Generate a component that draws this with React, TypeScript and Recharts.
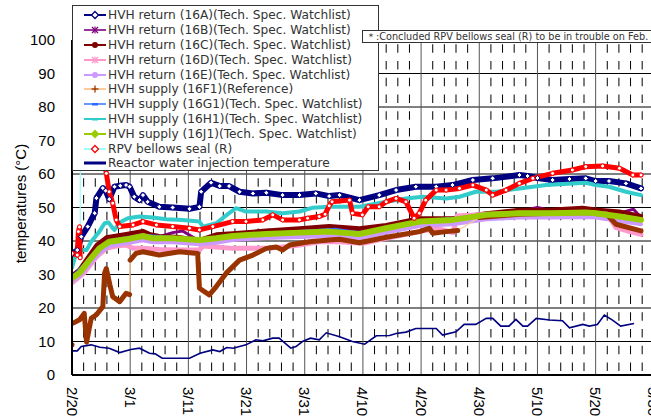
import React from "react";
import { LineChart, Line, XAxis, YAxis, CartesianGrid, Legend, ReferenceLine } from "recharts";

// x = days since 2/20 (2012 is a leap year, so 3/1 is day 10)
const DAY_TICKS = [0, 10, 20, 30, 40, 50, 60, 70, 80, 90, 100, 110];
const DATE_LABELS = ["2/20", "3/1", "3/11", "3/21", "3/31", "4/10", "4/20", "4/30", "5/10", "5/20", "5/30", "6/9"];
const TEMP_TICKS = [0, 10, 20, 30, 40, 50, 60, 70, 80, 90, 100];
const MAJOR_DAYS = DAY_TICKS.filter((d) => d > 0 && d < 110);
const MINOR_DAYS: number[] = [];
for (let d = 2; d < 110; d += 2) if (d % 10 !== 0) MINOR_DAYS.push(d);

const NOTE = "＊:Concluded RPV bellows seal (R) to be in trouble on Feb.";

// HVH return (16A)
const days16A = [0, 0.9, 1.6, 2.7, 3.9, 4.2, 5.3, 5.8, 6.4, 7.3, 8.3, 9.3, 9.9, 10.7, 11.6, 12.2, 13, 15, 17.3, 20.2, 21.9, 22.2, 23.9, 25.4, 27, 28.8, 31.1, 33.4, 36.2, 39.1, 41.9, 44.2, 46, 49.4, 52.8, 55.7, 59.1, 62.6, 65.4, 68.9, 72.3, 76.9, 78.3, 80, 82.6, 85.5, 88.3, 90, 92.3, 95.2, 97.8];
const temps16A = [36, 37.3, 41.3, 44.3, 48.3, 52.8, 55.8, 55, 52.5, 56.2, 56.5, 56.7, 56.2, 53.2, 52.2, 53.7, 51.7, 50.2, 50, 49.6, 50.2, 54.7, 57.4, 56.4, 56.4, 54.7, 54.2, 54.4, 53.7, 53.7, 54.2, 53.4, 53.7, 52.2, 53.7, 55.2, 56.2, 56.2, 56.7, 58.2, 58.7, 59.7, 59.4, 58.8, 58.2, 58.5, 58.7, 57.9, 57.9, 57.2, 55.7];

// HVH return (16B)
const days16B = [0, 1.3, 3, 4.7, 6.4, 9.3, 12.2, 15, 17.3, 19, 21.9, 24.8, 27.6, 33.4, 39.1, 44.2, 49.4, 54, 59.7, 65.4, 71.2, 76.9, 80, 82.6, 88.3, 90, 94.1, 96.5, 97.8];
const temps16B = [30, 31.5, 35, 38.3, 40.5, 41.5, 42.3, 41.3, 42.5, 43, 40, 41.8, 41.8, 42.6, 43.3, 44.2, 43.3, 44.3, 46.3, 46.3, 47.8, 48.8, 50, 49, 49.4, 49, 48.3, 49.5, 47];

// HVH return (16C)
const days16C = [0, 1.3, 2.4, 4.2, 5.9, 9.3, 12.2, 13.5, 15, 18, 21.9, 24.8, 27.6, 33.4, 39.1, 44.2, 49.4, 54, 59.7, 65.4, 71.2, 76.9, 82.6, 87.8, 90, 94.1, 97.8];
const temps16C = [29.5, 31.5, 34.3, 38.8, 41.1, 42.1, 43, 42, 41.5, 41.3, 40.3, 42, 42.3, 43.1, 43.8, 44.5, 43.8, 44.8, 46.8, 46.8, 48.3, 49.3, 49.4, 49.9, 49.4, 48.8, 47.5];

// HVH return (16D)
const days16D = [0, 2.1, 4.2, 5.9, 7.5, 9.3, 10.5, 12.2, 15, 18.5, 21.9, 22.5, 24.2, 27.6, 33.4, 36.2, 39.1, 42.5, 46, 50, 54, 59.7, 62.6, 65.5, 66.2, 70, 76.9, 82.6, 88.3, 92, 93.5, 95.5, 97.8];
const temps16D = [27.5, 30.5, 35.3, 37.8, 38.5, 38.8, 37.8, 37.8, 37.5, 37.3, 37.3, 38.5, 38.3, 37.8, 37.8, 38.2, 38.8, 39.8, 39.8, 39.3, 40.8, 42.8, 43.8, 42.5, 47.5, 47.8, 48.3, 48.3, 48.5, 48, 44, 43, 42];

// HVH return (16E)
const days16E = [0, 1.3, 3, 4.7, 6.4, 9.3, 12.2, 13.9, 17.3, 21.9, 24.8, 27.6, 33.4, 39.1, 44.2, 49.4, 54, 59.7, 65.4, 71.2, 76.9, 82.6, 88.3, 90, 94.1, 97.8];
const temps16E = [28, 29.5, 33, 36.5, 38.5, 39.3, 40.2, 39.6, 39.6, 39, 39.5, 40.3, 40.9, 41.2, 41.5, 40.8, 42.5, 44.5, 45, 46.5, 47, 47, 47.2, 47, 46, 45];

// HVH supply (16F1)
const days16F1 = [0, 0.1, 1.3, 2.1, 2.5, 2.8, 3.3, 4.2, 5.3, 5.6, 5.9, 6.5, 7, 8.2, 9.3, 9.9, 10, 11, 12.2, 15, 18.5, 21.6, 21.9, 23.6, 24.8, 26.5, 28.8, 31.1, 33.4, 35.1, 36.2, 37.4, 40.8, 44.2, 46, 49.4, 54, 59.7, 61.4, 62, 64.3, 66.3, 70, 76.9, 82.6, 88.3, 92, 93.5, 97.8];
const temps16F1 = [9, 15.4, 16.5, 18.4, 9.8, 12.4, 16.9, 18, 20.4, 30.4, 31.8, 27, 23.4, 21.9, 24.4, 24, 34.3, 36.3, 36.8, 35.8, 36.8, 36.3, 25.9, 23.9, 26.4, 30.4, 34.3, 35.8, 37.8, 38.2, 37.3, 38.8, 39.8, 40.3, 40.5, 39.5, 41.1, 42.8, 43.8, 42.3, 42.8, 43.1, 47, 48, 48.3, 48.5, 47.8, 45, 43];
const gaps16F1 = [0.05, 9.95, 66.5];

// HVH supply (16G1)
const days16G1 = [0, 3, 6.4, 12.2, 21.9, 27.6, 39.1, 45.2, 49.4, 54, 59.7, 66, 71.2, 76.9, 82.6, 90, 97.8];
const temps16G1 = [29.2, 34.5, 40, 41.7, 40.5, 41.7, 42.8, 43.5, 42.4, 44, 46, 46.8, 48, 48.5, 48.5, 48.5, 46.5];

// HVH supply (16H1)
const days16H1 = [0, 0.5, 1.3, 2.5, 3.3, 4.7, 5.6, 6.3, 6.8, 7.3, 8.2, 9.6, 11.6, 13.9, 16.2, 19, 21.9, 22.5, 24.8, 27, 28.2, 29.9, 33.4, 36.2, 39.1, 41.3, 44.2, 46, 49.4, 54, 57.4, 60.3, 64.3, 66.6, 69.4, 72.9, 76.9, 81.5, 86, 88.3, 90, 92.3, 95.2, 97.8];
const temps16H1 = [32, 35, 37.3, 37.3, 39.8, 42.8, 45.3, 45.5, 44.3, 43.3, 45.5, 46.8, 47.3, 47, 46.5, 46.3, 45.8, 44.3, 45.3, 48.3, 49.8, 48.8, 48.8, 48.3, 48.8, 49.9, 50.2, 50.2, 50.2, 51.7, 52.7, 53.2, 52.7, 53.2, 54.7, 54.7, 55.7, 56.7, 57.2, 57.4, 56.7, 56.2, 54.7, 53.7];

// HVH supply (16J1)
const days16J1 = [0, 1.3, 3, 4.7, 6.4, 9.3, 12.2, 13.9, 17.3, 21.9, 24.8, 27.6, 33.4, 39.1, 44.2, 49.4, 54, 59.7, 65.4, 71.2, 76.9, 82.6, 88.3, 90, 94.1, 97.8];
const temps16J1 = [28.9, 30.5, 34.3, 37.8, 39.8, 40.5, 41.5, 40.8, 40.8, 40.3, 40.8, 41.5, 42.1, 42.5, 42.8, 42.1, 43.8, 45.8, 46.3, 47.8, 48.3, 48.3, 48.5, 48.3, 47.3, 46.3];

// RPV bellows seal (R)
const daysRPV = [0, 0.9, 1.1, 1.3, 1.4, 1.45, 3, 5.6, 5.9, 6.4, 7, 7.6, 8.2, 10.5, 12.2, 14.5, 17.3, 20.2, 21.9, 24.2, 27.6, 29.9, 32.8, 34.5, 36.2, 39.1, 40.5, 42.5, 43.5, 44.2, 44.7, 47.7, 48.2, 49.9, 50.9, 52.8, 54, 55.7, 57.4, 58.8, 59.7, 60.8, 62.6, 64.3, 66.6, 68.9, 71.2, 72.3, 74.6, 76.9, 79.2, 82.6, 86, 88.3, 91.2, 94.1, 96.4, 97.8];
const tempsRPV = [36.3, 35.8, 42.8, 44.2, 35, 80, 75, 63, 60.2, 54.7, 51.3, 46.3, 44.3, 44.8, 45.8, 44.8, 44.3, 43.8, 43.3, 44.3, 45.8, 45.8, 46.3, 47.8, 46.3, 46.3, 46.8, 47.3, 48, 50.5, 51.7, 52.2, 48.3, 47.8, 50.2, 50.2, 51.7, 52.7, 51.7, 46.8, 48.3, 52.2, 55.2, 55.2, 55.7, 56.7, 55.2, 53.7, 55.2, 57.2, 58.7, 60.2, 61.2, 62.2, 62.4, 61.7, 59.7, 59.7];
const gapsRPV = [1.42];

// Reactor water injection temperature
const daysInj = [0, 0.9, 1.6, 3.3, 4.8, 6.4, 8.2, 10.1, 11.6, 13.3, 14.3, 15.5, 20.2, 22, 24.2, 25.4, 26.6, 27.7, 29.9, 31.6, 32.8, 34.5, 35.6, 37.6, 38.5, 39.6, 41, 42.5, 43.7, 46, 48.2, 50.3, 52.3, 54.6, 55.7, 57.4, 59.1, 62.6, 63.7, 66, 67.4, 69.4, 71.2, 72.3, 73.7, 75.1, 76.3, 77.5, 78.3, 79.8, 82.1, 84.3, 85.5, 87.8, 88.9, 90.3, 91.5, 92.9, 94.3, 96.6];
const tempsInj = [7.2, 7.2, 8.5, 9, 8.3, 8, 6.7, 7.6, 8, 6.5, 6.3, 5, 5, 6.5, 7.5, 7, 8.2, 8, 9, 10.5, 10.2, 11, 11, 8, 8.5, 10, 11, 10.5, 12.6, 11.4, 10, 9.2, 11.7, 11.8, 12.4, 12.8, 13.9, 13.9, 11.9, 12.9, 15.1, 15.1, 16.9, 16.9, 14.6, 14.6, 16.6, 14.6, 14.6, 16.9, 16.4, 16.2, 14.1, 15.1, 14.6, 15.1, 17.9, 16.4, 14.6, 15.4];

type Mark = "diamond" | "star" | "circle" | "plus" | "dash" | "none";

interface Series {
  name: string;
  days: number[];
  temps: number[];
  line: string; // series line colour
  mark: string; // marker colour (dense markers read as a thick band)
  band: number;
  legendMark: Mark;
  gaps?: number[];
  dot?: "diamond" | "circle";
}

const SERIES: Series[] = [
  { name: "HVH return (16A)(Tech. Spec. Watchlist)", days: days16A, temps: temps16A, line: "#000080", mark: "#000080", band: 6, legendMark: "diamond", dot: "diamond" },
  { name: "HVH return (16B)(Tech. Spec. Watchlist)", days: days16B, temps: temps16B, line: "#993399", mark: "#800080", band: 3, legendMark: "star" },
  { name: "HVH return (16C)(Tech. Spec. Watchlist)", days: days16C, temps: temps16C, line: "#800000", mark: "#800000", band: 4, legendMark: "circle" },
  { name: "HVH return (16D)(Tech. Spec. Watchlist)", days: days16D, temps: temps16D, line: "#FF99CC", mark: "#FF99CC", band: 5, legendMark: "star" },
  { name: "HVH return (16E)(Tech. Spec. Watchlist)", days: days16E, temps: temps16E, line: "#CC99FF", mark: "#CC99FF", band: 4, legendMark: "circle" },
  { name: "HVH supply (16F1)(Reference)", days: days16F1, temps: temps16F1, line: "#FFCC99", mark: "#993300", band: 5, legendMark: "plus", gaps: gaps16F1 },
  { name: "HVH supply (16G1)(Tech. Spec. Watchlist)", days: days16G1, temps: temps16G1, line: "#6699FF", mark: "#3366FF", band: 3, legendMark: "dash" },
  { name: "HVH supply (16H1)(Tech. Spec. Watchlist)", days: days16H1, temps: temps16H1, line: "#33CCCC", mark: "#33CCCC", band: 4, legendMark: "dash" },
  { name: "HVH supply (16J1)(Tech. Spec. Watchlist)", days: days16J1, temps: temps16J1, line: "#99CC00", mark: "#99CC00", band: 6, legendMark: "diamond" },
  { name: "RPV bellows seal (R)", days: daysRPV, temps: tempsRPV, line: "#99FFFF", mark: "#FF0000", band: 5, legendMark: "diamond", gaps: gapsRPV, dot: "circle" },
];

const INJ_NAME = "Reactor water injection temperature";

const toPoints = (days: number[], temps: number[], gaps: number[] = []) => {
  const pts: { d: number; v: number | null }[] = days.map((d, i) => ({ d, v: temps[i] }));
  gaps.forEach((g) => pts.push({ d: g, v: null }));
  return pts.sort((a, b) => a.d - b.d);
};

const FONT = "'Liberation Sans', Arial, sans-serif";
const LEGEND_FONT = "'DejaVu Sans', Verdana, sans-serif";

const makeDot = (kind: "diamond" | "circle", color: string) => (props: any) => {
  const { cx, cy, index } = props;
  if (cx == null || cy == null || props.value == null) return <g key={`n${index}`} />;
  if (kind === "diamond") {
    return (
      <path
        key={`d${index}`}
        d={`M${cx},${cy - 2.6}L${cx + 2.6},${cy}L${cx},${cy + 2.6}L${cx - 2.6},${cy}Z`}
        fill="#fff"
        stroke={color}
        strokeWidth={1}
      />
    );
  }
  return <circle key={`c${index}`} cx={cx} cy={cy} r={2} fill="#fff" stroke={color} strokeWidth={1} />;
};

function LegendMarker({ kind, color, line, thick }: { kind: Mark; color: string; line: string; thick?: boolean }) {
  const c = 22;
  return (
    <svg width={35} height={12} style={{ display: "block", flex: "none" }}>
      <line x1={11} x2={33} y1={6} y2={6} stroke={line} strokeWidth={thick ? 3 : 2} />
      {kind === "diamond" && <path d={`M${c},2.5L${c + 3.5},6L${c},9.5L${c - 3.5},6Z`} fill={color === "#99CC00" ? color : "#fff"} stroke={color} strokeWidth={1.3} />}
      {kind === "circle" && <circle cx={c} cy={6} r={3} fill={color} />}
      {kind === "star" && (
        <g stroke={color} strokeWidth={1.2}>
          <line x1={c - 3} x2={c + 3} y1={3} y2={9} />
          <line x1={c - 3} x2={c + 3} y1={9} y2={3} />
          <line x1={c} x2={c} y1={2.5} y2={9.5} />
        </g>
      )}
      {kind === "plus" && (
        <g stroke={color} strokeWidth={1.3}>
          <line x1={c - 3.5} x2={c + 3.5} y1={6} y2={6} />
          <line x1={c} x2={c} y1={2.5} y2={9.5} />
        </g>
      )}
      {kind === "dash" && <rect x={c - 3} y={5} width={6} height={2.5} fill={color} />}
    </svg>
  );
}

function LegendBox() {
  const rows = [
    ...SERIES.map((s) => ({ name: s.name, kind: s.legendMark, color: s.mark, line: s.line, thick: false })),
    { name: INJ_NAME, kind: "none" as Mark, color: "#000080", line: "#000080", thick: true },
  ];
  return (
    <div
      style={{
        width: 307,
        height: 166,
        boxSizing: "border-box",
        border: "1px solid #333",
        background: "#fff",
        paddingTop: 2,
        fontFamily: LEGEND_FONT,
        fontSize: 12.2,
        color: "#333",
      }}
    >
      {rows.map((r) => (
        <div key={r.name} style={{ display: "flex", alignItems: "center", height: 14.8, whiteSpace: "nowrap" }}>
          <LegendMarker kind={r.kind} color={r.color} line={r.line} thick={r.thick} />
          <span>{r.name}</span>
        </div>
      ))}
    </div>
  );
}

function DateTick({ x, y, payload }: any) {
  const label = DATE_LABELS[DAY_TICKS.indexOf(payload.value)];
  return (
    <text
      x={x}
      y={y}
      transform={`rotate(90 ${x} ${y})`}
      dominantBaseline="central"
      textAnchor="start"
      fontSize={15}
      fontFamily={FONT}
      fill="#000"
    >
      {label}
    </text>
  );
}

function YTitle({ viewBox }: any) {
  const cx = viewBox.x + 20;
  const cy = viewBox.y + viewBox.height / 2 - 4;
  return (
    <text
      x={cx}
      y={cy}
      transform={`rotate(-90 ${cx} ${cy})`}
      textAnchor="middle"
      dominantBaseline="central"
      fontSize={15}
      fontFamily={FONT}
      fill="#000"
    >
      temperatures (°C)
    </text>
  );
}

export default function App() {
  return (
    <div
      style={{
        position: "absolute",
        left: 0,
        top: 0,
        width: 651,
        height: 420,
        overflow: "hidden",
        background: "#fff",
      }}
    >
      <LineChart width={712} height={420} margin={{ top: 40, right: 0, bottom: 0, left: 0 }}>
        <CartesianGrid vertical={false} stroke="#000" />
        <XAxis
          type="number"
          dataKey="d"
          domain={[0, 110]}
          ticks={DAY_TICKS}
          allowDataOverflow
          height={45}
          tickLine={false}
          tickSize={0}
          tickMargin={12}
          axisLine={{ stroke: "#000", strokeWidth: 2 }}
          tick={<DateTick />}
          interval={0}
        />
        <YAxis
          type="number"
          domain={[0, 100]}
          ticks={TEMP_TICKS}
          allowDataOverflow
          width={72}
          tickLine={false}
          tickSize={0}
          tickMargin={17}
          axisLine={{ stroke: "#000", strokeWidth: 2 }}
          tick={{ fontSize: 15, fontFamily: FONT, fill: "#000" }}
          interval={0}
          label={<YTitle />}
        />
        {MINOR_DAYS.map((d) => (
          <ReferenceLine
            key={`m${d}`}
            x={d}
            stroke="#000"
            strokeWidth={1}
            strokeDasharray="8.5 8.25"
            strokeDashoffset={12.75}
            zIndex={-90}
          />
        ))}
        {MAJOR_DAYS.map((d) => (
          <ReferenceLine key={`M${d}`} x={d} stroke="#555" strokeWidth={1} zIndex={-90} />
        ))}
        {SERIES.map((s) => (
          <React.Fragment key={s.name}>
            {s.gaps && (
              <Line
                data={toPoints(s.days, s.temps)}
                dataKey="v"
                stroke={s.line}
                strokeWidth={1.2}
                dot={false}
                activeDot={false}
                legendType="none"
                isAnimationActive={false}
              />
            )}
            <Line
              data={toPoints(s.days, s.temps, s.gaps)}
              dataKey="v"
              name={s.name}
              stroke={s.mark}
              strokeWidth={s.band}
              strokeLinejoin="round"
              strokeLinecap="round"
              dot={s.dot ? makeDot(s.dot, s.mark) : false}
              activeDot={false}
              isAnimationActive={false}
            />
          </React.Fragment>
        ))}
        <Line
          data={toPoints(daysInj, tempsInj)}
          dataKey="v"
          name={INJ_NAME}
          stroke="#000080"
          strokeWidth={1.6}
          dot={false}
          activeDot={false}
          isAnimationActive={false}
        />
        <Legend
          layout="vertical"
          align="center"
          verticalAlign="middle"
          content={() => <LegendBox />}
          wrapperStyle={{ left: 72, top: 5, width: 307, height: 166 }}
        />
      </LineChart>
      <div
        style={{
          position: "absolute",
          left: 362,
          top: 30,
          width: 320,
          height: 13,
          boxSizing: "border-box",
          border: "1px solid #333",
          background: "#fff",
          fontFamily: LEGEND_FONT,
          fontSize: 9.7,
          lineHeight: "11px",
          paddingLeft: 3,
          color: "#333",
          whiteSpace: "nowrap",
        }}
      >
        {NOTE}
      </div>
    </div>
  );
}
